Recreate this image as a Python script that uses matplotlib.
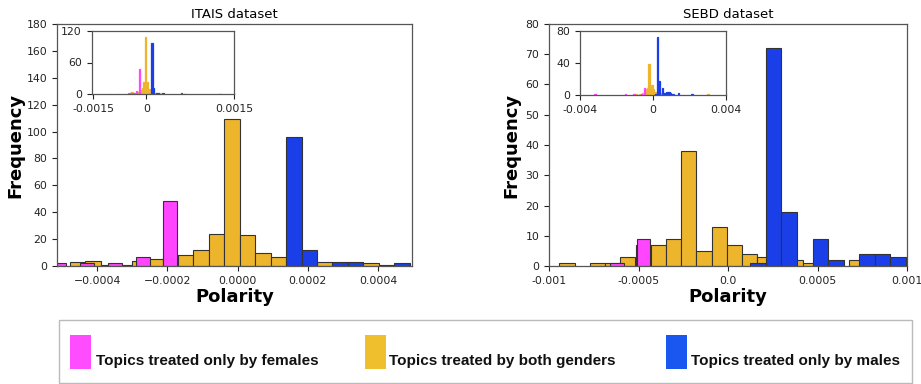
import matplotlib
matplotlib.use("Agg")
import matplotlib.pyplot as plt
from matplotlib.patches import Rectangle

# ---------------- data (bin centers / counts) ----------------
# ITAIS dataset
itais_both_x = [-4.56e-4, -4.12e-4, -3.68e-4, -3.24e-4, -2.80e-4, -2.36e-4, -1.92e-4,
                -1.48e-4, -1.04e-4, -6.0e-5, -1.6e-5, 2.8e-5, 7.2e-5, 1.16e-4, 2.48e-4, 3.80e-4]
itais_both_y = [3, 4, 1, 1, 4, 5, 8, 8, 12, 24, 109, 23, 10, 7, 3, 2]
itais_fem_x = [-1.05e-3, -7.9e-4, -6.2e-4, -5.10e-4, -4.30e-4, -3.50e-4, -2.71e-4, -1.915e-4]
itais_fem_y = [1, 1, 1, 2, 2, 2, 7, 48]
itais_male_x = [1.60e-4, 2.04e-4, 2.92e-4, 3.36e-4, 4.24e-4, 4.68e-4, 1.0e-3, 1.1e-3, 2.1e-3]
itais_male_y = [96, 12, 3, 3, 1, 2, 2, 1, 1]
itais_w_both, itais_w_fem, itais_w_male = 4.4e-5, 4.0e-5, 4.4e-5

# SEBD dataset
sebd_both_x = [-9.0e-4, -7.30e-4, -6.45e-4, -5.60e-4, -4.74e-4, -3.89e-4, -3.04e-4, -2.19e-4,
               -1.34e-4, -4.9e-5, 3.6e-5, 1.21e-4, 2.06e-4, 3.77e-4, 4.62e-4, 7.17e-4, 3.0e-3]
sebd_both_y = [1, 1, 1, 3, 7, 7, 9, 38, 5, 13, 7, 4, 3, 2, 1, 2, 1]
sebd_fem_x = [-3.17e-3, -1.5e-3, -1.05e-3, -6.21e-4, -4.72e-4]
sebd_fem_y = [1, 1, 1, 1, 9]
sebd_male_x = [1.68e-4, 2.55e-4, 3.42e-4, 5.16e-4, 6.02e-4, 7.76e-4, 8.63e-4, 9.50e-4,
               1.1e-3, 1.4e-3, 2.15e-3]
sebd_male_y = [1, 72, 18, 9, 2, 4, 4, 3, 1, 2, 1]
sebd_w_both, sebd_w_fem, sebd_w_male = 8.5e-5, 7.5e-5, 8.7e-5

legend_labels = ["Topics treated only by females",
                 "Topics treated by both genders",
                 "Topics treated only by males"]

C_FEM, C_BOTH, C_MALE = "#FF45FF", "#EDB52C", "#1A3FE8"
L_FEM, L_BOTH, L_MALE = "#FF4CFF", "#F0BF2E", "#1A57F0"

W, H = 921, 384
fig = plt.figure(figsize=(W / 100, H / 100), dpi=100)


def frac(x0, y0, x1, y1):
    return [x0 / W, 1 - y1 / H, (x1 - x0) / W, (y1 - y0) / H]


TICKC = "#222222"
SPINEC = "#555555"


def style(ax, fs=7.8):
    for s in ax.spines.values():
        s.set_color(SPINEC)
        s.set_linewidth(0.9)
    ax.tick_params(labelsize=fs, colors=TICKC, length=3.5, width=0.8)


def draw_main(ax, data, edge=True):
    for xs, ys, w, c in data:
        if edge:
            ax.bar(xs, ys, width=w, color=c, edgecolor="#333333", linewidth=0.8,
                   align="center")
        else:
            ax.bar(xs, ys, width=w, color=c, edgecolor=c, linewidth=0.9,
                   align="center")


itais = [(itais_both_x, itais_both_y, itais_w_both, C_BOTH),
         (itais_fem_x, itais_fem_y, itais_w_fem, C_FEM),
         (itais_male_x, itais_male_y, itais_w_male, C_MALE)]
sebd = [(sebd_both_x, sebd_both_y, sebd_w_both, C_BOTH),
        (sebd_fem_x, sebd_fem_y, sebd_w_fem, C_FEM),
        (sebd_male_x, sebd_male_y, sebd_w_male, C_MALE)]

# ---- left main
ax1 = fig.add_axes(frac(57, 24, 412, 266))
draw_main(ax1, itais)
ax1.set_xlim(-0.000515, 0.000497)
ax1.set_ylim(0, 180)
ax1.set_yticks(range(0, 181, 20))
ax1.set_xticks([-0.0004, -0.0002, 0.0, 0.0002, 0.0004])
ax1.set_xticklabels(["\u22120.0004", "\u22120.0002", "0.0000", "0.0002", "0.0004"])
style(ax1)
ax1.set_title("ITAIS dataset", fontsize=9.5, pad=4)
ax1.set_xlabel("Polarity", fontsize=13, fontweight="bold")
ax1.set_ylabel("Frequency", fontsize=13, fontweight="bold")
ax1.yaxis.set_label_coords(-0.093, 0.5)
ax1.xaxis.set_label_coords(0.5, -0.09)

# ---- left inset
ai1 = fig.add_axes(frac(91.7, 30.7, 234.3, 94.3))
draw_main(ai1, itais, edge=False)
ai1.set_xlim(-0.00155, 0.0025)
ai1.set_ylim(0, 120)
ai1.set_yticks([0, 60, 120])
ai1.set_xticks([-0.0015, 0, 0.0025])
ai1.set_xticklabels(["-0.0015", "0", "0.0015"])
style(ai1)

# ---- right main
ax2 = fig.add_axes(frac(549, 24, 907, 266))
draw_main(ax2, sebd)
ax2.set_xlim(-0.001, 0.001)
ax2.set_ylim(0, 80)
ax2.set_yticks(range(0, 81, 10))
ax2.set_xticks([-0.001, -0.0005, 0.0, 0.0005, 0.001])
ax2.set_xticklabels(["-0.001", "-0.0005", "0.0", "0.0005", "0.001"])
style(ax2)
ax2.set_title("SEBD dataset", fontsize=9.5, pad=4)
ax2.set_xlabel("Polarity", fontsize=13, fontweight="bold")
ax2.set_ylabel("Frequency", fontsize=13, fontweight="bold")
ax2.yaxis.set_label_coords(-0.079, 0.5)
ax2.xaxis.set_label_coords(0.5, -0.09)

# ---- right inset
ai2 = fig.add_axes(frac(580, 30.7, 726, 95))
draw_main(ai2, sebd, edge=False)
ai2.set_xlim(-0.004, 0.004)
ai2.set_ylim(0, 80)
ai2.set_yticks([0, 40, 80])
ai2.set_xticks([-0.004, 0, 0.004])
ai2.set_xticklabels(["-0.004", "0", "0.004"])
style(ai2)

# ---- legend box (figure level)
def fx(x):
    return x / W


def fy(y):
    return 1 - y / H


box = Rectangle((fx(58.5), fy(382.5)), fx(912) - fx(58.5), fy(319.5) - fy(382.5),
                transform=fig.transFigure, facecolor="white", edgecolor="#BBBBBB",
                linewidth=1.0)
fig.add_artist(box)
for (px0, tx), col, lab in zip([(69.5, 95.5), (365, 389), (666, 690.6)],
                               [L_FEM, L_BOTH, L_MALE], legend_labels):
    r = Rectangle((fx(px0), fy(369)), fx(21), 34 / H, transform=fig.transFigure,
                  facecolor=col, edgecolor="none")
    fig.add_artist(r)
    fig.text(fx(tx), fy(365.5), lab, fontsize=11, fontweight="bold",
             family=["Liberation Sans", "DejaVu Sans"], ha="left", va="baseline",
             color="#111111")

fig.savefig("out.png", dpi=100)
